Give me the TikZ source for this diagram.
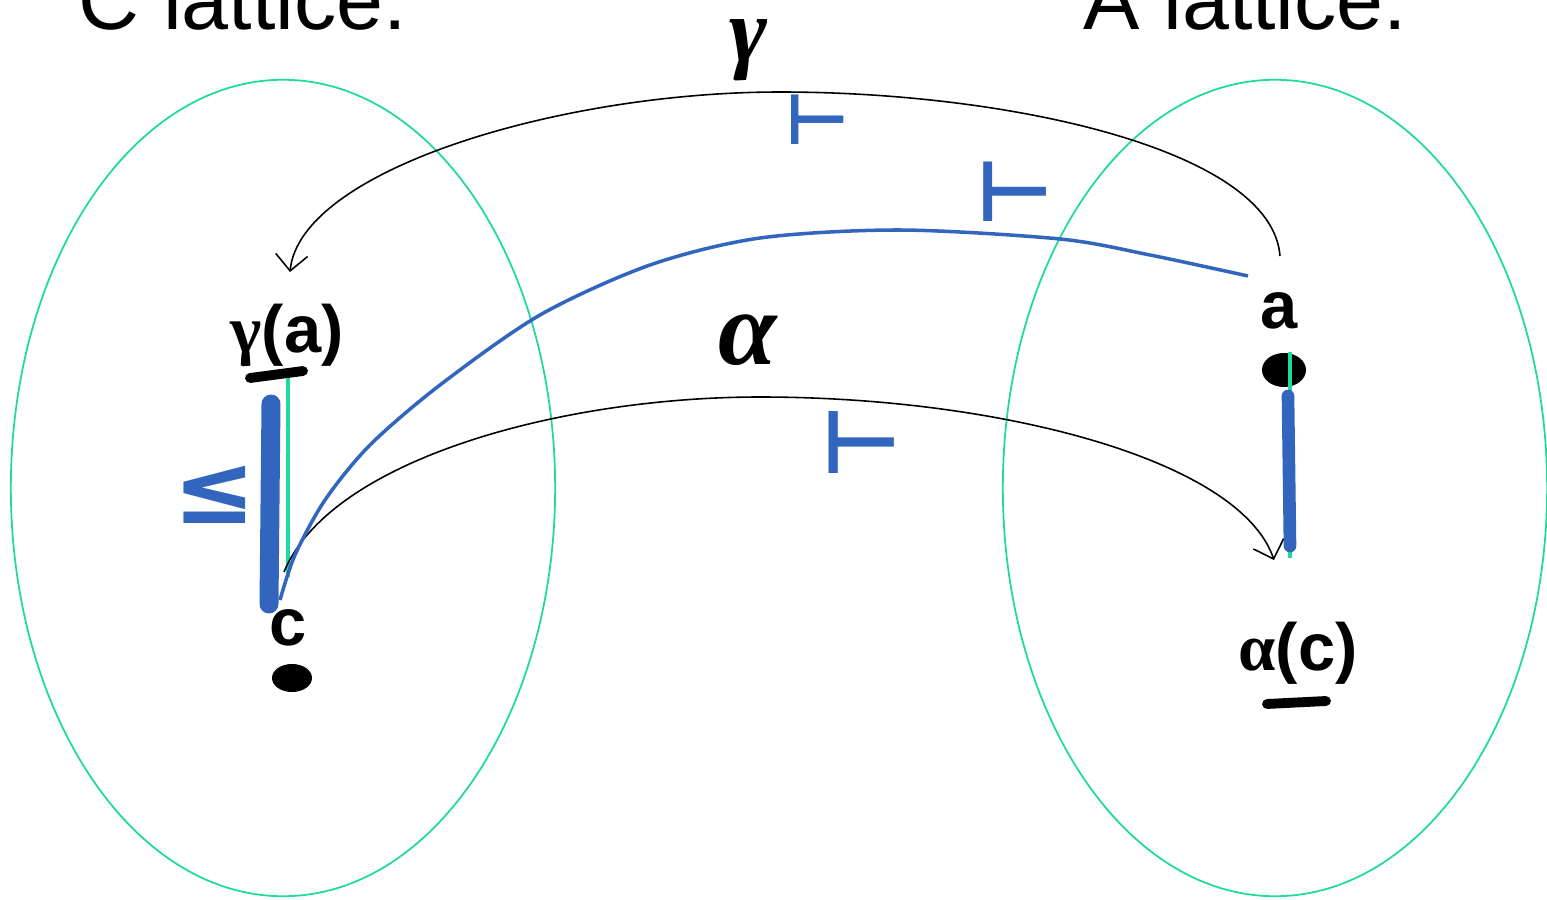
\documentclass[tikz,border=0pt]{standalone}
\usepackage{fontspec}
\setmainfont{Liberation Sans}
\newfontfamily\greekserif{Liberation Serif}
\newfontfamily\penfont{DejaVu Sans}
\usepackage{xcolor}
\usetikzlibrary{shapes.geometric, arrows.meta, positioning}
\definecolor{latgreen}{RGB}{30,218,158}
\definecolor{penblue}{RGB}{50,102,190}

\begin{document}
\begin{tikzpicture}[
    x=0.01cm, y=-0.01cm,
    lattice/.style={ellipse, draw=latgreen, line width=0.5pt,
                    minimum width=5.44cm, minimum height=8.16cm, inner sep=0pt},
    title/.style={font=\fontsize{24}{28}\selectfont, anchor=base west, inner sep=0pt},
    elem/.style={font=\fontsize{19}{22}\selectfont\bfseries, anchor=base, inner sep=0pt},
    hand/.style={font=\fontsize{30}{34}\selectfont\greekserif\bfseries\itshape, inner sep=0pt},
    tick/.style={text=penblue, font=\fontsize{20}{24}\selectfont\penfont\bfseries, inner sep=0pt},
    blob/.style={ellipse, fill=black, inner sep=0pt},
    map/.style={-{Straight Barb[length=1.6mm, width=3.2mm]}, line width=0.45pt},
    ink/.style={line width=#1, line cap=round, line join=round},
]
\useasboundingbox (0,0) rectangle (1547,900);

%% Lattices
\node[lattice] (Cset) at (283,488) {};
\node[lattice] (Aset) at (1275,488) {};
\node[title] (Ctitle) at (78,30) {C lattice:};
\node[title] (Atitle) at (1083,30) {A lattice:};

%% Elements
\node[elem] (galab) at (287,352) {{\greekserif γ}(a)};
\node[elem] (alab)  at (1279,328) {a};
\node[elem] (clab)  at (288,645) {c};
\node[elem] (aclab) at (1298,670) {{\greekserif α}(c)};
\node[blob, minimum width=0.44cm, minimum height=0.34cm] (adot) at (1284,370) {};
\node[blob, minimum width=0.40cm, minimum height=0.28cm] (cdot) at (292,678) {};

%% Underlines and order bars
\draw[ink=2.8pt] (250,378) -- (303,371);
\draw[ink=2.8pt] (1267,704) -- (1326,701);
\draw[latgreen, line width=1.1pt] (288,378) -- (288,577);
\draw[penblue, ink=5.4pt] (271,404) -- (269,604);
\draw[latgreen, line width=1.3pt] (1290,352) -- (1290,558);
\draw[penblue, ink=3.6pt] (1288,396) -- (1290,546);

%% Maps
\coordinate (gfrom) at (1280,256);
\coordinate (gto)   at (290,272);
\coordinate (afrom) at (284,572);
\coordinate (ato)   at (1274,560);
\draw[map] (gfrom) .. controls (1272,150) and (1010,92) .. (780,92)
                   .. controls (560,92) and (300,170) .. (gto);
\draw[map] (afrom) .. controls (330,460) and (560,397) .. (760,397)
                   .. controls (1000,397) and (1240,460) .. (ato);
\draw[penblue, line width=1pt] plot[smooth] coordinates {(1248,276) (1150,255)
    (1060,239) (900,230) (760,238) (650,265) (540,315) (440,385) (370,445)
    (325,500) (295,555) (280,600)};

%% Handwritten labels
\node[hand, font=\fontsize{26}{30}\selectfont\greekserif\bfseries\itshape] (gamma) at (749,50) {γ};
\node[hand] (alpha) at (748,340) {α};
\node[tick] (t1) at (818,120) {⊢};
\node[tick, font=\fontsize{24}{28}\selectfont\penfont\bfseries] (t2) at (1015,192) {⊢};
\node[tick, font=\fontsize{25}{28}\selectfont\penfont\bfseries] (t3) at (862,443) {⊢};
\node[tick, font=\fontsize{28}{32}\selectfont\penfont\bfseries] (leq) at (215,495) {≤};

\end{tikzpicture}
\end{document}
